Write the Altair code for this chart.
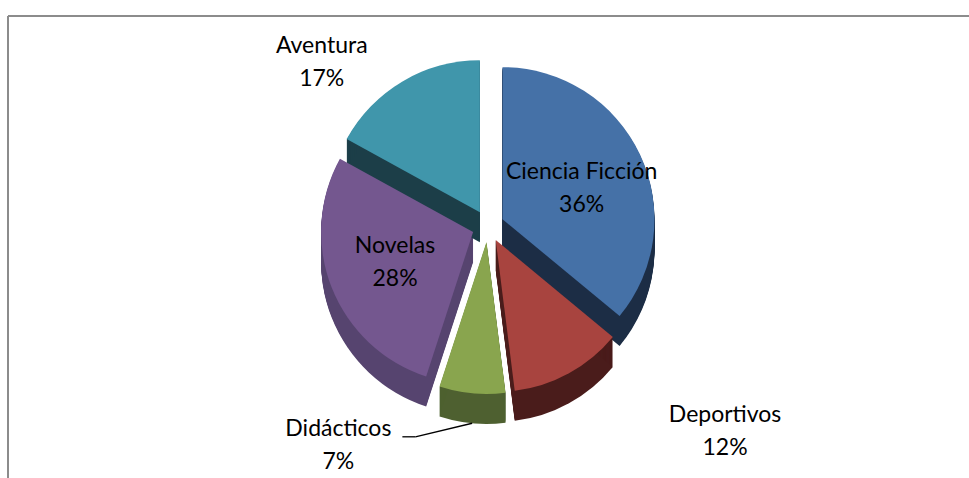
import altair as alt
import pandas as pd

# ---- data -------------------------------------------------------------
categories = ["Ciencia Ficción", "Deportivos", "Didácticos", "Novelas", "Aventura"]
percent = [36, 12, 7, 28, 17]

# ---- style ------------------------------------------------------------
top_colors = ["#4571a7", "#a8443f", "#89a54e", "#74578f", "#4096ab"]
side_colors = ["#1c2d45", "#4a1c1b", "#4e6030", "#56446f", "#1c3e48"]
label_radius = [85, 299, 252, 84, 218]      # px from slice centre
label_shift = [3.8, -21.3, 30.6, 0, -15.9]  # degrees added to mid-angle
leader = [0, 0, 1, 0, 0]

W, H = 961, 462
PAD_L, PAD_T = 8, 16
CX, CY = 488 - PAD_L, 226 - PAD_T
R = 152
EXPLODE = 16
DEPTH = 30
FS = 23
LH = 33

df = pd.DataFrame({
    "cat": categories, "pct": percent, "order": list(range(len(categories))),
    "top": top_colors, "side": side_colors,
    "lr": label_radius, "ls": label_shift, "leader": leader,
})

base = (
    alt.Chart(df)
    .transform_window(cum="sum(pct)", sort=[alt.SortField("order")], frame=[None, 0])
    .transform_joinaggregate(total="sum(pct)")
    .transform_calculate(
        f0="(datum.cum - datum.pct) / datum.total",
        f1="datum.cum / datum.total",
        mid="(datum.cum - datum.pct / 2) / datum.total * 2 * PI",
    )
    .transform_calculate(
        sx=f"{CX} + {EXPLODE} * sin(datum.mid)",
        sy=f"{CY} - {EXPLODE} * cos(datum.mid)",
    )
)

theta_scale = alt.Scale(domain=[0, 1], range=[0, 6.283185307179586])

sides = (
    base.transform_calculate(k=f"sequence(1, {DEPTH + 1})")
    .transform_flatten(["k"])
    .transform_calculate(syk="datum.sy + datum.k")
    .mark_arc(radius=R)
    .encode(
        theta=alt.Theta("f0:Q", scale=theta_scale),
        theta2="f1:Q",
        x=alt.X("sx:Q", scale=None),
        y=alt.Y("syk:Q", scale=None),
        color=alt.Color("side:N", scale=None),
    )
)

tops = base.mark_arc(radius=R).encode(
    theta=alt.Theta("f0:Q", scale=theta_scale),
    theta2="f1:Q",
    x=alt.X("sx:Q", scale=None),
    y=alt.Y("sy:Q", scale=None),
    color=alt.Color("top:N", scale=None),
)

lab = base.transform_calculate(
    la="datum.mid + datum.ls * PI / 180",
).transform_calculate(
    lx="datum.sx + datum.lr * sin(datum.la)",
    ly="datum.sy - datum.lr * cos(datum.la)",
    label="datum.cat + '\\n' + datum.pct + '%'",
)

labels = lab.mark_text(
    lineBreak="\n", font="Lato", fontSize=FS, lineHeight=LH,
    align="center", baseline="middle", color="#000000", dy=-LH / 2,
).encode(
    x=alt.X("lx:Q", scale=None),
    y=alt.Y("ly:Q", scale=None),
    text="label:N",
)

lead = lab.transform_filter("datum.leader == 1").transform_calculate(
    ax=f"datum.sx + {R} * sin(datum.mid)",
    ay=f"datum.sy - {R} * cos(datum.mid) + {DEPTH}",
    bx="datum.lx + 64",
    cx="datum.lx + 77",
    by="datum.ly - 9",
)
lead1 = lead.mark_rule(color="#000000", strokeWidth=1.3).encode(
    x=alt.X("bx:Q", scale=None), x2="cx:Q",
    y=alt.Y("by:Q", scale=None), y2="by:Q",
)
lead2 = lead.mark_rule(color="#000000", strokeWidth=1.3).encode(
    x=alt.X("cx:Q", scale=None), x2="ax:Q",
    y=alt.Y("by:Q", scale=None), y2="ay:Q",
)

border_top = alt.Chart(df).mark_rule(color="#8c8c8c", strokeWidth=2).encode(
    x=alt.value(0), x2=alt.value(W), y=alt.value(0)
)
border_left = alt.Chart(df).mark_rule(color="#8c8c8c", strokeWidth=2).encode(
    x=alt.value(0), y=alt.value(0), y2=alt.value(H)
)

chart = (
    alt.layer(border_top, border_left, sides, tops, lead1, lead2, labels)
    .properties(
        width=W, height=H,
        padding={"left": PAD_L, "top": PAD_T, "right": 0, "bottom": 0},
        autosize="none",
        background="#ffffff",
    )
    .configure_view(stroke=None)
)

chart.save("out.html", embed_options={"renderer": "svg", "actions": False})
